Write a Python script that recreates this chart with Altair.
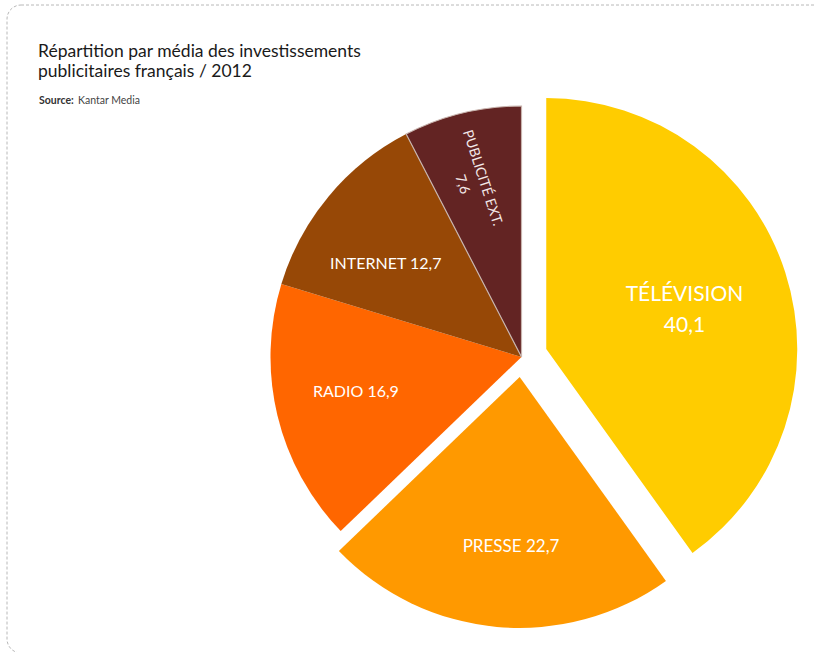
import altair as alt
import pandas as pd

# ---- data ----
MEDIA = ["TÉLÉVISION", "PRESSE", "RADIO", "INTERNET", "PUBLICITÉ EXT."]
VALUES = [40.1, 22.7, 16.9, 12.7, 7.6]
COLORS = ["#FFCC00", "#FF9900", "#FF6600", "#974806", "#632423"]

TITLE_LINES = ["Répartition par média des investissements", "publicitaires français / 2012"]
SOURCE_LABEL = "Source:"
SOURCE_NAME = "Kantar Media"

# ---- styling / layout ----
CX, CY, R = 521.5, 357, 251
EXPLODE = [26, 20, 0, 0, 0]
LABEL_R = [174.5, 189.8, 169.2, 164.3, 183.3]
LABEL_SHIFT = [-3.1, -2.05, 1.6, -5.45, 1.26]
LABEL_SIZE = [21, 17, 16, 16, 14]
LABEL_ROT = [0, 0, 0, 0, 72]
LABEL_TWO_LINES = [True, False, False, False, True]
FONT = "Lato"


def fmt(v):
    return f"{v:.1f}".replace(".", ",")


labels = [
    (m + "|" + fmt(v)) if two else (m + " " + fmt(v))
    for m, v, two in zip(MEDIA, VALUES, LABEL_TWO_LINES)
]

df = pd.DataFrame({
    "media": MEDIA,
    "value": VALUES,
    "order": list(range(len(MEDIA))),
    "lab": labels,
    "explode": EXPLODE,
    "labr": LABEL_R,
    "shift": LABEL_SHIFT,
    "fs": LABEL_SIZE,
    "rot": LABEL_ROT,
})

base = (
    alt.Chart(df)
    .transform_window(cum="sum(value)", sort=[alt.SortField("order")], frame=[None, 0])
    .transform_calculate(
        start="datum.cum - datum.value",
        end="datum.cum",
        midrad="(datum.cum - datum.value/2) / 100 * 2 * PI",
    )
    .transform_calculate(
        ax=f"{CX} + datum.explode * sin(datum.midrad)",
        ay=f"{CY} - datum.explode * cos(datum.midrad)",
        lx=f"{CX} + datum.labr * sin(datum.midrad + datum.shift * PI / 180)",
        ly=f"{CY} - datum.labr * cos(datum.midrad + datum.shift * PI / 180)",
    )
)

arcs = base.mark_arc(outerRadius=R, stroke="#c8b4ae").encode(
    theta=alt.Theta("start:Q", scale=alt.Scale(domain=[0, 100], range=[0, 6.283185307179586])),
    theta2="end:Q",
    x=alt.X("ax:Q", scale=None),
    y=alt.Y("ay:Q", scale=None),
    color=alt.Color("media:N", scale=alt.Scale(domain=MEDIA, range=COLORS), legend=None),
    strokeWidth=alt.condition("datum.media == 'PUBLICITÉ EXT.'", alt.value(1.2), alt.value(0)),
)

labels_h = base.transform_filter("datum.rot == 0").mark_text(
    font=FONT, color="white", align="center", baseline="middle", lineBreak="|", lineHeight=31
).encode(
    x=alt.X("lx:Q", scale=None),
    y=alt.Y("ly:Q", scale=None),
    text="lab:N",
    size=alt.Size("fs:Q", scale=None),
)

labels_r = base.transform_filter("datum.rot != 0").mark_text(
    font=FONT, color="#f3e9e9", align="center", baseline="middle", lineBreak="|", lineHeight=21
).encode(
    x=alt.X("lx:Q", scale=None),
    y=alt.Y("ly:Q", scale=None),
    text="lab:N",
    size=alt.Size("fs:Q", scale=None),
    angle=alt.Angle("rot:Q", scale=None),
)

border = alt.Chart(alt.Data(values=[{}])).mark_rect(
    fill=None, stroke="#b8b8b8", strokeDash=[3, 2], strokeWidth=1, cornerRadius=14
).encode(
    x=alt.value(7), x2=alt.value(860), y=alt.value(5), y2=alt.value(653)
)

title = alt.Chart(alt.Data(values=[{"t": "|".join(TITLE_LINES)}])).mark_text(
    font=FONT, fontSize=17.5, color="#1a1a1a", align="left", baseline="alphabetic",
    lineBreak="|", lineHeight=20
).encode(x=alt.value(38), y=alt.value(56.5), text="t:N")

src1 = alt.Chart(alt.Data(values=[{"t": SOURCE_LABEL}])).mark_text(
    font=FONT, fontSize=10.5, fontWeight="bold", color="#333", align="left", baseline="alphabetic"
).encode(x=alt.value(39), y=alt.value(104), text="t:N")

src2 = alt.Chart(alt.Data(values=[{"t": SOURCE_NAME}])).mark_text(
    font=FONT, fontSize=10.5, color="#444", align="left", baseline="alphabetic"
).encode(x=alt.value(78), y=alt.value(104), text="t:N")

chart = alt.layer(border, arcs, labels_h, labels_r, title, src1, src2).properties(
    width=815, height=652, padding=0, autosize=alt.AutoSizeParams(type="none"),
    background="white",
).configure_view(stroke=None)

chart.save("out.html", embed_options={"renderer": "svg", "actions": False})
